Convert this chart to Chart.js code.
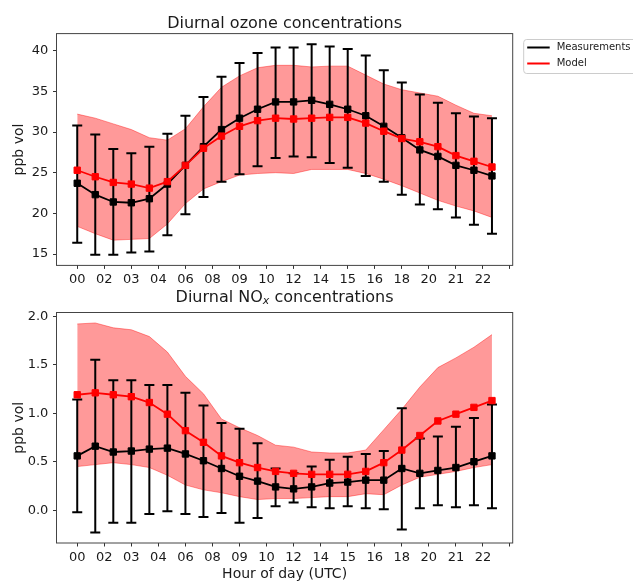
<!DOCTYPE html>
<html>
<head>
<meta charset="utf-8">
<script src="https://cdn.jsdelivr.net/npm/chart.js@4.4.1/dist/chart.umd.min.js"></script>
<style>
  html, body { margin: 0; padding: 0; background: #fff; }
  #wrap { position: relative; width: 633px; height: 583px; overflow: hidden; }
  canvas { position: absolute; left: 0; }
</style>
</head>
<body>
<div id="wrap">
  <canvas id="ozone" width="633" height="290" style="top:0"></canvas>
  <canvas id="nox" width="633" height="293" style="top:290px"></canvas>
</div>
<script>
// hours of the day (UTC)
const hours = [0, 1, 2, 3, 4, 5, 6, 7, 8, 9, 10, 11, 12, 13, 14, 15, 16, 17, 18, 19, 20, 21, 22, 23];

// x ticks sit every 1.5 h, labelled with the rounded hour
const xTickPositions = [0, 1.5, 3, 4.5, 6, 7.5, 9, 10.5, 12, 13.5, 15, 16.5, 18, 19.5, 21, 22.5, 24];
const xTickLabels = ['00', '02', '03', '04', '06', '08', '09', '10', '12', '14', '15', '16', '18', '20', '21', '22', ''];

// ozone (ppb)
const o3Meas    = [23.7, 22.3, 21.4, 21.3, 21.8, 23.6, 25.9, 28.2, 30.3, 31.7, 32.8, 33.7, 33.7, 33.9, 33.4, 32.8, 32.0, 30.7, 29.3, 27.8, 27.0, 25.9, 25.3, 24.6];
const o3MeasHi  = [30.8, 29.7, 27.9, 27.4, 28.2, 29.8, 32.0, 34.3, 36.8, 38.5, 39.7, 40.4, 40.4, 40.8, 40.5, 40.2, 39.4, 37.6, 36.1, 34.6, 33.6, 32.3, 31.9, 31.7];
const o3MeasLo  = [16.4, 14.9, 14.9, 15.2, 15.3, 17.3, 19.9, 22.0, 23.9, 24.8, 25.8, 26.8, 27.0, 26.9, 26.2, 25.6, 24.6, 23.9, 22.3, 21.1, 20.5, 19.5, 18.6, 17.5];
const o3Model   = [25.3, 24.5, 23.8, 23.6, 23.1, 23.9, 25.9, 28.0, 29.5, 30.7, 31.4, 31.7, 31.6, 31.7, 31.8, 31.8, 31.1, 30.1, 29.2, 28.8, 28.2, 27.1, 26.4, 25.7];
const o3ModelHi = [32.2, 31.7, 31.0, 30.3, 29.3, 29.0, 30.4, 33.1, 35.5, 36.9, 37.9, 38.2, 38.2, 38.0, 38.1, 38.1, 37.0, 35.9, 35.2, 34.8, 34.4, 33.3, 32.3, 32.0];
const o3ModelLo = [18.4, 17.5, 16.7, 16.8, 16.9, 18.7, 21.2, 23.0, 23.9, 24.7, 24.9, 25.0, 24.9, 25.4, 25.4, 25.4, 24.9, 24.2, 23.4, 22.5, 21.6, 20.9, 20.3, 19.5];
const o3Ticks = [15, 20, 25, 30, 35, 40];
const o3TickLabels = ['15', '20', '25', '30', '35', '40'];

// NOx (ppb)
const noxMeas    = [0.56, 0.66, 0.60, 0.61, 0.63, 0.64, 0.58, 0.51, 0.43, 0.35, 0.30, 0.24, 0.22, 0.24, 0.28, 0.29, 0.31, 0.31, 0.43, 0.38, 0.41, 0.44, 0.50, 0.56];
const noxMeasHi  = [1.14, 1.55, 1.34, 1.34, 1.29, 1.29, 1.21, 1.08, 0.90, 0.84, 0.69, 0.43, 0.38, 0.45, 0.52, 0.55, 0.58, 0.61, 1.05, 0.74, 0.76, 0.86, 0.95, 1.09];
const noxMeasLo  = [-0.02, -0.23, -0.13, -0.13, -0.04, -0.01, -0.04, -0.07, -0.03, -0.13, -0.08, 0.04, 0.08, 0.03, 0.02, 0.04, 0.02, 0.01, -0.20, 0.02, 0.05, 0.03, 0.05, 0.02];
const noxModel   = [1.19, 1.21, 1.19, 1.17, 1.11, 0.99, 0.82, 0.70, 0.56, 0.49, 0.44, 0.40, 0.38, 0.37, 0.37, 0.37, 0.40, 0.49, 0.62, 0.77, 0.92, 0.99, 1.06, 1.13];
const noxModelHi = [1.92, 1.93, 1.88, 1.86, 1.79, 1.63, 1.38, 1.20, 0.94, 0.85, 0.77, 0.67, 0.65, 0.60, 0.59, 0.59, 0.62, 0.83, 1.04, 1.27, 1.47, 1.57, 1.68, 1.81];
const noxModelLo = [0.45, 0.47, 0.49, 0.47, 0.44, 0.36, 0.26, 0.21, 0.18, 0.14, 0.11, 0.12, 0.12, 0.13, 0.14, 0.14, 0.17, 0.16, 0.26, 0.34, 0.37, 0.40, 0.44, 0.47];
const noxTicks = [0, 0.5, 1, 1.5, 2];
const noxTickLabels = ['0.0', '0.5', '1.0', '1.5', '2.0'];

const seriesNames = ['Measurements', 'Model'];

const FONT = "'DejaVu Sans', sans-serif";
const INK = '#1a1a1a';
const BAND = 'rgba(255, 0, 0, 0.4)';

const pts = arr => hours.map((h, i) => ({ x: h, y: arr[i] }));

// error bars for any dataset carrying errLo / errHi
const errorBars = {
  id: 'errorBars',
  beforeDatasetDraw(chart, args) {
    const ds = chart.data.datasets[args.index];
    if (!ds.errLo) return;
    const { ctx, scales: { x, y } } = chart;
    ctx.save();
    ctx.strokeStyle = '#000';
    ctx.lineWidth = 2;
    ctx.beginPath();
    hours.forEach((h, i) => {
      const px = x.getPixelForValue(h);
      const top = y.getPixelForValue(ds.errHi[i]);
      const bot = y.getPixelForValue(ds.errLo[i]);
      ctx.moveTo(px, top); ctx.lineTo(px, bot);
      ctx.moveTo(px - 5, top); ctx.lineTo(px + 5, top);
      ctx.moveTo(px - 5, bot); ctx.lineTo(px + 5, bot);
    });
    ctx.stroke();
    ctx.restore();
  }
};

// axes box
const frame = {
  id: 'frame',
  afterDatasetsDraw(chart) {
    const { ctx, chartArea: a } = chart;
    ctx.save();
    ctx.strokeStyle = '#444';
    ctx.lineWidth = 1;
    ctx.strokeRect(a.left, a.top, a.right - a.left, a.bottom - a.top);
    ctx.restore();
  }
};

// title made of runs so NO_x can carry a subscript
function titlePlugin(parts, baseline) {
  return {
    id: 'subplotTitle',
    afterDraw(chart) {
      const { ctx, chartArea: a } = chart;
      ctx.save();
      ctx.fillStyle = INK;
      ctx.textBaseline = 'alphabetic';
      ctx.textAlign = 'left';
      const widths = parts.map(p => { ctx.font = p.font; return ctx.measureText(p.text).width; });
      let x = (a.left + a.right) / 2 - widths.reduce((s, w) => s + w, 0) / 2;
      parts.forEach((p, i) => {
        ctx.font = p.font;
        ctx.fillText(p.text, x, baseline + (p.shift || 0));
        x += widths[i];
      });
      ctx.restore();
    }
  };
}

// legend box placed right of the top axes
const legendBox = {
  id: 'legendBox',
  afterDraw(chart) {
    const { ctx, chartArea: a } = chart;
    const left = a.right + 11, top = 39.5;
    ctx.save();
    ctx.fillStyle = 'rgba(255,255,255,0.8)';
    ctx.strokeStyle = '#cccccc';
    ctx.lineWidth = 1;
    ctx.beginPath();
    ctx.roundRect(left, top, 130, 34, 3);
    ctx.fill();
    ctx.stroke();
    ctx.font = '10px ' + FONT;
    ctx.textBaseline = 'middle';
    ['#000', '#ff0000'].forEach((c, i) => {
      const yy = top + 8 + i * 16;
      ctx.strokeStyle = c;
      ctx.lineWidth = 2;
      ctx.beginPath();
      ctx.moveTo(left + 3.5, yy); ctx.lineTo(left + 26, yy);
      ctx.stroke();
      ctx.fillStyle = INK;
      ctx.fillText(seriesNames[i], left + 33, yy);
    });
    ctx.restore();
  }
};

function makeChart(id, o) {
  const canvas = document.getElementById(id);
  const H = canvas.height;
  const plugins = [errorBars, frame, titlePlugin(o.title, o.titleBaseline)];
  if (o.legend) plugins.push(legendBox);

  return new Chart(canvas, {
    type: 'line',
    data: {
      datasets: [
        { data: pts(o.modelHi), fill: '+1', backgroundColor: BAND, borderColor: BAND,
          borderWidth: 1, pointRadius: 0, order: 3 },
        { data: pts(o.modelLo), fill: false, borderColor: BAND, borderWidth: 1, pointRadius: 0, order: 3 },
        { label: seriesNames[0], data: pts(o.meas), errLo: o.measLo, errHi: o.measHi,
          borderColor: '#000', backgroundColor: '#000', borderWidth: 1.8,
          pointStyle: 'rect', pointRadius: 4.5, pointBorderWidth: 1, order: 2 },
        { label: seriesNames[1], data: pts(o.model),
          borderColor: '#ff0000', backgroundColor: '#ff0000', borderWidth: 1.8,
          pointStyle: 'rect', pointRadius: 4.5, pointBorderWidth: 1, order: 1 }
      ]
    },
    options: {
      responsive: false,
      animation: false,
      devicePixelRatio: 1,
      events: [],
      layout: { padding: { left: 0, top: o.areaTop, right: 633 - 512.7, bottom: 0 } },
      plugins: { legend: { display: false }, tooltip: { enabled: false }, title: { display: false } },
      elements: { line: { tension: 0 } },
      scales: {
        x: {
          type: 'linear',
          min: -1.15,
          max: 24.15,
          afterFit: s => { s.height = H - o.areaBottom; },
          afterBuildTicks: s => { s.ticks = xTickPositions.map(v => ({ value: v })); },
          grid: { drawOnChartArea: false, drawTicks: true, tickLength: 3.5, tickColor: '#333' },
          border: { display: false },
          ticks: {
            autoSkip: false, maxRotation: 0, padding: 3.3, color: INK,
            font: { family: FONT, size: 13 },
            callback: v => xTickLabels[xTickPositions.indexOf(v)] ?? ''
          },
          title: o.xTitle
            ? { display: true, text: 'Hour of day (UTC)', color: INK, font: { family: FONT, size: 14 }, padding: { top: 0, bottom: 0 } }
            : { display: false }
        },
        y: {
          min: o.yMin,
          max: o.yMax,
          afterFit: s => { s.width = 56.5; },
          afterBuildTicks: s => { s.ticks = o.yTicks.map(v => ({ value: v })); },
          grid: { drawOnChartArea: false, drawTicks: true, tickLength: 3.5, tickColor: '#333' },
          border: { display: false },
          ticks: {
            padding: 4.7, color: INK,
            font: { family: FONT, size: 13 },
            callback: v => o.yLabels[o.yTicks.indexOf(v)] ?? ''
          },
          title: { display: true, text: 'ppb vol', color: INK, font: { family: FONT, size: 14 }, padding: { top: 11.3, bottom: 0 } }
        }
      }
    },
    plugins
  });
}

makeChart('ozone', {
  meas: o3Meas, measLo: o3MeasLo, measHi: o3MeasHi,
  model: o3Model, modelLo: o3ModelLo, modelHi: o3ModelHi,
  yMin: 13.6, yMax: 42.1, yTicks: o3Ticks, yLabels: o3TickLabels,
  areaTop: 33.6, areaBottom: 265.4,
  title: [{ text: 'Diurnal ozone concentrations', font: '16px ' + FONT }],
  titleBaseline: 28.3,
  legend: true, xTitle: false
});

makeChart('nox', {
  meas: noxMeas, measLo: noxMeasLo, measHi: noxMeasHi,
  model: noxModel, modelLo: noxModelLo, modelHi: noxModelHi,
  yMin: -0.338, yMax: 2.038, yTicks: noxTicks, yLabels: noxTickLabels,
  areaTop: 22.5, areaBottom: 253,
  title: [
    { text: 'Diurnal NO', font: '16px ' + FONT },
    { text: 'x', font: 'italic 11px ' + FONT, shift: 2.5 },
    { text: ' concentrations', font: '16px ' + FONT }
  ],
  titleBaseline: 11.5,
  legend: false, xTitle: true
});
</script>
</body>
</html>
